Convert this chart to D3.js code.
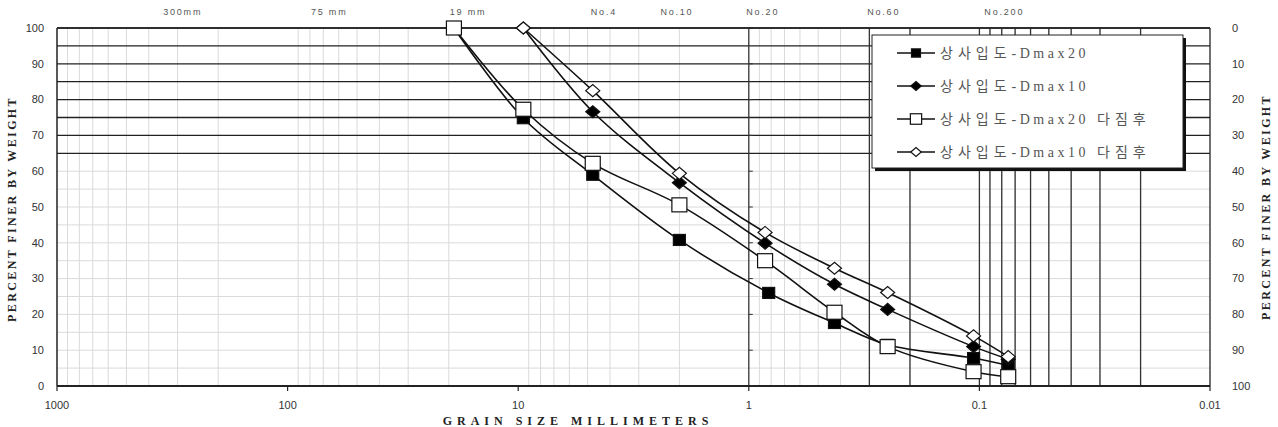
<!DOCTYPE html>
<html><head><meta charset="utf-8">
<script src="https://cdn.jsdelivr.net/npm/d3@7"></script>
<style>
html,body{margin:0;padding:0;background:#fff;}
svg{display:block;}
</style></head>
<body>
<svg id="c" width="1278" height="427"></svg>
<script>
// ---------- data ----------
const seriesNames = ["상사입도-Dmax20", "상사입도-Dmax10", "상사입도-Dmax20 다짐후", "상사입도-Dmax10 다짐후"];
const sizesD20   = [19, 9.5, 4.75, 2.0, 0.82, 0.425, 0.25, 0.106, 0.075];
const valsD20    = [100, 74.8, 59.0, 40.8, 26.0, 17.6, 11.5, 7.8, 5.7];
const sizesD10   = [9.5, 4.75, 2.0, 0.85, 0.425, 0.25, 0.106, 0.075];
const valsD10    = [100, 76.6, 56.8, 39.9, 28.4, 21.4, 11.0, 7.5];
const sizesD20c  = [19, 9.5, 4.75, 2.0, 0.85, 0.425, 0.25, 0.106, 0.075];
const valsD20c   = [100, 77.3, 62.2, 50.6, 35.0, 20.6, 11.0, 4.0, 2.6];
const sizesD10c  = [9.5, 4.75, 2.0, 0.85, 0.425, 0.25, 0.106, 0.075];
const valsD10c   = [100, 82.5, 59.4, 42.9, 32.9, 26.1, 14.0, 8.2];
const xTickValues = [1000, 100, 10, 1, 0.1, 0.01];
const xTickLabels = ["1000", "100", "10", "1", "0.1", "0.01"];
const yTickValues = [0, 10, 20, 30, 40, 50, 60, 70, 80, 90, 100];
const sieveLines = [1, 0.3, 0.2, 0.1, 0.09, 0.08, 0.07, 0.06, 0.05, 0.04, 0.03, 0.02];
const darkRows = [65, 70, 75, 80, 85, 90, 95, 100];
const topLabels = ["300mm", "75 mm", "19 mm", "No.4", "No.10", "No.20", "No.60", "No.200"];
const topLabelAt = [285, 66, 16.5, 4.25, 2.05, 0.87, 0.26, 0.078];

// ---------- layout ----------
const L = 57, R = 1210, T = 28, B = 386;
const svg = d3.select("#c");
const x = d3.scaleLog().domain([1000, 0.01]).range([L, R]);
const y = d3.scaleLinear().domain([0, 100]).range([B, T]);
const yR = d3.scaleLinear().domain([100, 0]).range([B, T]);

const g = svg.append("g");

// light minor verticals
const minor = [];
for (let k = -2; k <= 2; k++) for (let m = 2; m <= 9; m++) minor.push(m * Math.pow(10, k));
g.append("g").selectAll("line").data(minor).join("line")
  .attr("x1", d => x(d)).attr("x2", d => x(d)).attr("y1", T).attr("y2", B)
  .attr("stroke", "#dadada").attr("stroke-width", 1);

// light horizontals
const lightRows = d3.range(5, 65, 5);
g.append("g").selectAll("line").data(lightRows).join("line")
  .attr("x1", L).attr("x2", R).attr("y1", d => y(d)).attr("y2", d => y(d))
  .attr("stroke", "#dadada").attr("stroke-width", 1);

// dark horizontals
g.append("g").selectAll("line").data(darkRows).join("line")
  .attr("x1", L).attr("x2", R).attr("y1", d => y(d)).attr("y2", d => y(d))
  .attr("stroke", "#222").attr("stroke-width", 1.3);

// dark verticals
g.append("g").selectAll("line").data(sieveLines).join("line")
  .attr("x1", d => x(d)).attr("x2", d => x(d)).attr("y1", T).attr("y2", B)
  .attr("stroke", "#333").attr("stroke-width", 1.3);

// small ticks on the 1 mm line
g.append("g").selectAll("line").data(yTickValues).join("line")
  .attr("x1", x(1)).attr("x2", x(1) + 4).attr("y1", d => y(d)).attr("y2", d => y(d))
  .attr("stroke", "#333").attr("stroke-width", 1);

// frame
g.append("line").attr("x1", L).attr("x2", L).attr("y1", T).attr("y2", B).attr("stroke", "#222").attr("stroke-width", 1.5);
g.append("line").attr("x1", R).attr("x2", R).attr("y1", T).attr("y2", B).attr("stroke", "#222").attr("stroke-width", 1.3);
g.append("line").attr("x1", L).attr("x2", R).attr("y1", T).attr("y2", T).attr("stroke", "#222").attr("stroke-width", 1.3);
g.append("line").attr("x1", L).attr("x2", R).attr("y1", B).attr("y2", B).attr("stroke", "#222").attr("stroke-width", 2);

// bottom ticks
g.append("g").selectAll("line").data(xTickValues).join("line")
  .attr("x1", d => x(d)).attr("x2", d => x(d)).attr("y1", B).attr("y2", B + 5)
  .attr("stroke", "#222").attr("stroke-width", 1.2);

// tick labels
const tickFont = "Liberation Sans, Arial, sans-serif";
g.append("g").selectAll("text").data(yTickValues).join("text")
  .attr("x", 44).attr("y", d => y(d)).attr("dy", "0.35em").attr("text-anchor", "end")
  .attr("font-family", tickFont).attr("font-size", 11).attr("fill", "#333").text(d => d);
g.append("g").selectAll("text").data(yTickValues).join("text")
  .attr("x", 1232).attr("y", d => yR(d)).attr("dy", "0.35em").attr("text-anchor", "start")
  .attr("font-family", tickFont).attr("font-size", 11).attr("fill", "#333").text(d => d);
g.append("g").selectAll("text").data(xTickValues).join("text")
  .attr("x", d => x(d)).attr("y", 409).attr("text-anchor", "middle")
  .attr("font-family", tickFont).attr("font-size", 11).attr("fill", "#333")
  .text((d, i) => xTickLabels[i]);

// top sieve labels
g.append("g").selectAll("text").data(topLabels).join("text")
  .attr("x", (d, i) => x(topLabelAt[i])).attr("y", 15).attr("text-anchor", "middle")
  .attr("font-family", tickFont).attr("font-size", 9).attr("letter-spacing", 1.8)
  .attr("fill", "#555").text(d => d);

// axis titles
const titleFont = "Liberation Serif, Times New Roman, serif";
svg.append("text").attr("transform", "translate(16,209) rotate(-90)")
  .attr("text-anchor", "middle").attr("font-family", titleFont).attr("font-weight", "bold")
  .attr("font-size", 12).attr("letter-spacing", 2.4).attr("fill", "#222").text("PERCENT FINER BY WEIGHT");
svg.append("text").attr("transform", "translate(1270,207) rotate(-90)")
  .attr("text-anchor", "middle").attr("font-family", titleFont).attr("font-weight", "bold")
  .attr("font-size", 12).attr("letter-spacing", 2.4).attr("fill", "#222").text("PERCENT FINER BY WEIGHT");
svg.append("text").attr("x", 578).attr("y", 425)
  .attr("text-anchor", "middle").attr("font-family", titleFont).attr("font-weight", "bold")
  .attr("font-size", 12).attr("letter-spacing", 5).attr("fill", "#222").text("GRAIN SIZE MILLIMETERS");

// ---------- series ----------
const series = [
  {name: seriesNames[0], sizes: sizesD20, vals: valsD20, marker: "sq", fill: "#000"},
  {name: seriesNames[1], sizes: sizesD10, vals: valsD10, marker: "dm", fill: "#000"},
  {name: seriesNames[2], sizes: sizesD20c, vals: valsD20c, marker: "sq", fill: "#fff"},
  {name: seriesNames[3], sizes: sizesD10c, vals: valsD10c, marker: "dm", fill: "#fff"}
];
const line = d3.line().x(d => x(d[0])).y(d => y(d[1])).curve(d3.curveCatmullRom.alpha(0.5));

function drawMarker(sel, s, cx, cy, scale) {
  if (s.marker === "sq") {
    const w = (s.fill === "#000" ? 12 : 15) * scale, h = (s.fill === "#000" ? 11 : 14) * scale;
    sel.append("rect").attr("x", cx - w / 2).attr("y", cy - h / 2).attr("width", w).attr("height", h)
      .attr("fill", s.fill).attr("stroke", "#111").attr("stroke-width", 1.2);
  } else {
    const w = 7 * scale, h = 6 * scale;
    sel.append("path").attr("d", `M${cx - w},${cy}L${cx},${cy - h}L${cx + w},${cy}L${cx},${cy + h}Z`)
      .attr("fill", s.fill).attr("stroke", "#111").attr("stroke-width", 1.2);
  }
}

series.forEach(s => {
  const pts = s.sizes.map((d, i) => [d, s.vals[i]]);
  const sg = g.append("g");
  sg.append("path").attr("d", line(pts)).attr("fill", "none").attr("stroke", "#111").attr("stroke-width", 1.6);
  pts.forEach(p => drawMarker(sg, s, x(p[0]), y(p[1]), 1));
});

// ---------- legend ----------
const lg = svg.append("g");
lg.append("rect").attr("x", 875).attr("y", 38).attr("width", 311).attr("height", 133).attr("fill", "#111");
lg.append("rect").attr("x", 872).attr("y", 35).attr("width", 311).attr("height", 133)
  .attr("fill", "#fff").attr("stroke", "#222").attr("stroke-width", 1);
const rowY = [53, 86, 119, 152];
series.forEach((s, i) => {
  const yy = rowY[i];
  lg.append("line").attr("x1", 897).attr("x2", 935).attr("y1", yy).attr("y2", yy).attr("stroke", "#111").attr("stroke-width", 1.6);
  drawMarker(lg, s, 916, yy, 0.75);
  const parts = s.name.split(/(-Dmax\d+)/);
  const t = lg.append("text").attr("x", 940).attr("y", yy).attr("dy", "0.36em").attr("fill", "#555").attr("font-size", 14);
  parts.forEach(p => {
    if (!p) return;
    const latin = /^-Dmax/.test(p);
    t.append("tspan")
      .attr("font-family", latin ? "Liberation Serif, serif" : "Noto Sans CJK KR, sans-serif")
      .attr("letter-spacing", latin ? 3.5 : 5)
      .text(p);
  });
});
</script>
</body></html>
